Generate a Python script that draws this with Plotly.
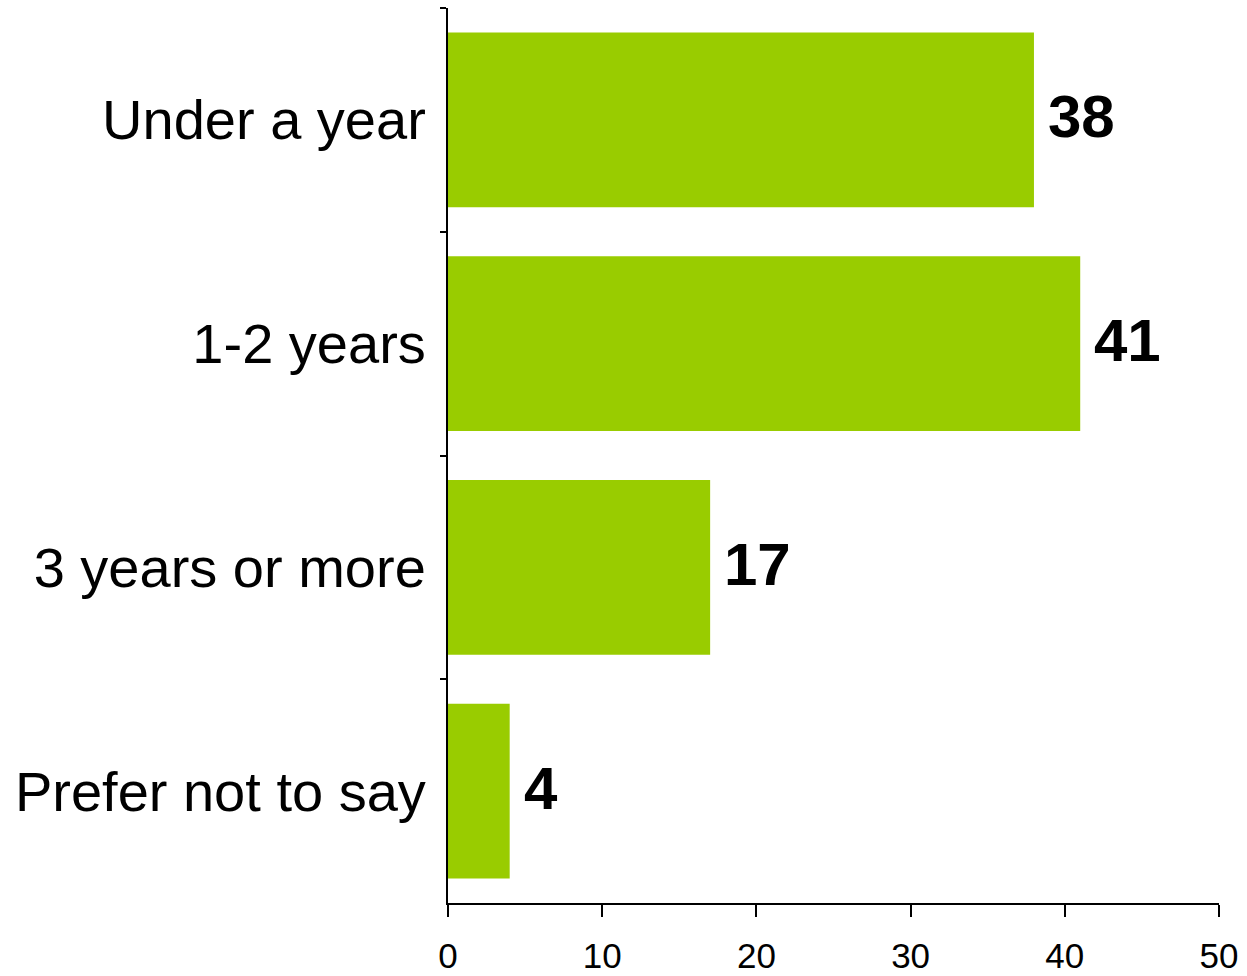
import plotly.graph_objects as go

# Survey responses: length of time
categories = ["Under a year", "1-2 years", "3 years or more", "Prefer not to say"]
values = [38, 41, 17, 4]
x_ticks = [0, 10, 20, 30, 40, 50]

BAR_COLOR = "#99CC00"
FONT = "Liberation Sans, Arial, sans-serif"

fig = go.Figure()
fig.add_trace(go.Bar(
    x=values,
    y=categories,
    orientation="h",
    marker=dict(color=BAR_COLOR, line=dict(width=0)),
    hoverinfo="x+y",
))

# Bold value labels just past each bar's end
for cat, val in zip(categories, values):
    fig.add_annotation(
        x=val, y=cat, text=f"<b>{val}</b>",
        xanchor="left", yanchor="middle", xshift=12, yshift=3,
        showarrow=False,
        font=dict(family=FONT, size=60, color="black"),
    )

fig.update_layout(
    width=1247, height=976,
    margin=dict(l=448, r=28, t=8, b=73),
    paper_bgcolor="white", plot_bgcolor="white",
    bargap=0.22,
    showlegend=False,
    font=dict(family=FONT, color="black"),
)

fig.update_xaxes(
    range=[0, 50],
    tickvals=x_ticks,
    ticktext=[str(t) for t in x_ticks],
    ticks="outside", ticklen=12, tickwidth=2, tickcolor="black",
    showline=True, linecolor="black", linewidth=2,
    showgrid=False, zeroline=False,
    ticklabelstandoff=9,
    automargin=False,
    tickfont=dict(family=FONT, size=35, color="black"),
)

fig.update_yaxes(
    autorange="reversed",
    tickson="boundaries",
    ticks="outside", ticklen=6, tickwidth=2, tickcolor="black",
    showline=True, linecolor="black", linewidth=2,
    showgrid=False, zeroline=False,
    ticklabelstandoff=9,
    automargin=False,
    tickfont=dict(family=FONT, size=56, color="black"),
)

fig.write_html("out.html")
